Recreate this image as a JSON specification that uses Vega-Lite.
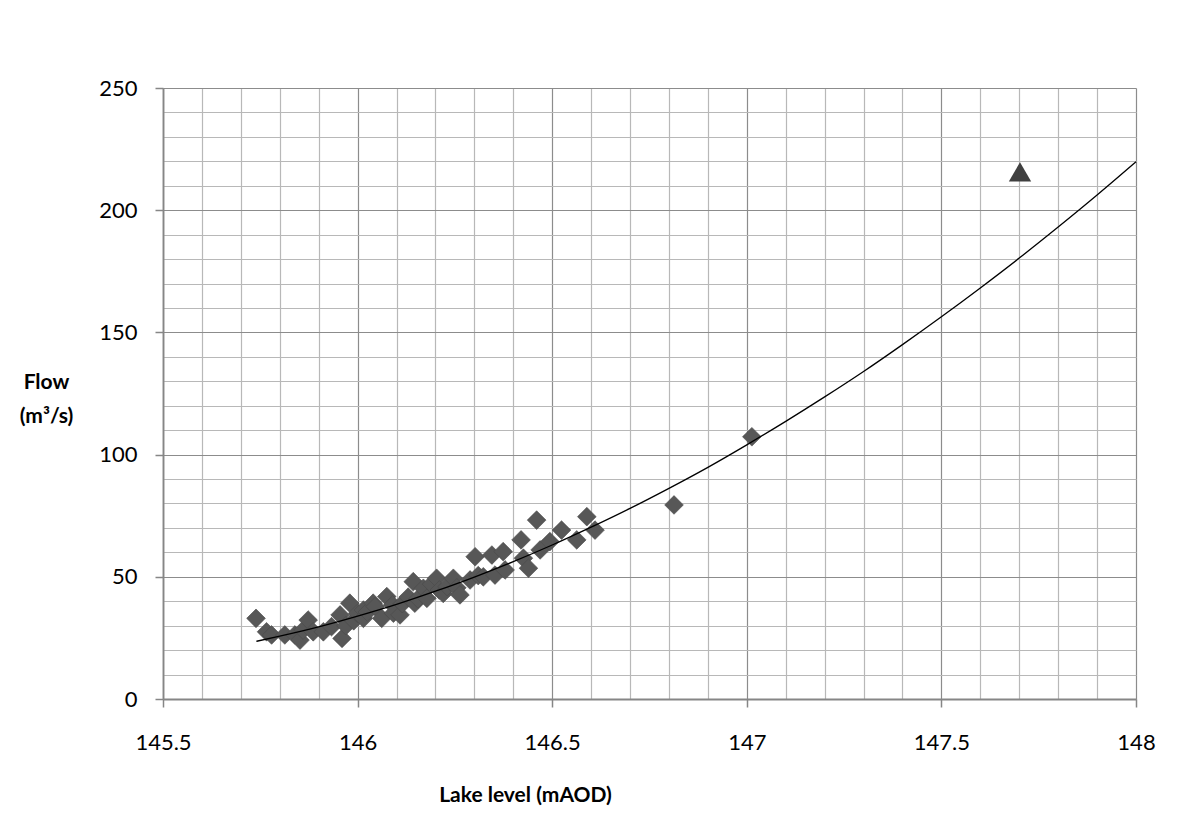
{
  "$schema": "https://vega.github.io/schema/vega-lite/v6.json",
  "autosize": "none",
  "width": 973,
  "height": 611,
  "padding": {"left": 163, "top": 88, "right": 52, "bottom": 135},
  "background": "white",
  "config": {
    "view": {"stroke": null},
    "font": "Lato"
  },
  "datasets": {
    "obs": [
      {"level": 145.739, "flow": 33.0},
      {"level": 145.766, "flow": 27.5},
      {"level": 145.779, "flow": 26.2},
      {"level": 145.813, "flow": 26.2},
      {"level": 145.839, "flow": 26.2},
      {"level": 145.852, "flow": 24.1},
      {"level": 145.86, "flow": 28.2},
      {"level": 145.873, "flow": 32.3},
      {"level": 145.886, "flow": 27.5},
      {"level": 145.912, "flow": 27.5},
      {"level": 145.933, "flow": 29.6},
      {"level": 145.955, "flow": 34.4},
      {"level": 145.96, "flow": 24.8},
      {"level": 145.97, "flow": 30.0},
      {"level": 145.98, "flow": 39.2},
      {"level": 145.99, "flow": 32.0},
      {"level": 146.0, "flow": 35.0},
      {"level": 146.015, "flow": 36.4},
      {"level": 146.015, "flow": 33.0},
      {"level": 146.025, "flow": 35.6},
      {"level": 146.04, "flow": 39.2},
      {"level": 146.045, "flow": 37.8},
      {"level": 146.062, "flow": 33.0},
      {"level": 146.075, "flow": 41.9},
      {"level": 146.09, "flow": 38.5},
      {"level": 146.092, "flow": 35.1},
      {"level": 146.109, "flow": 34.4},
      {"level": 146.115, "flow": 39.0},
      {"level": 146.13, "flow": 41.7},
      {"level": 146.143, "flow": 48.0},
      {"level": 146.147, "flow": 39.2},
      {"level": 146.155, "flow": 41.0},
      {"level": 146.169, "flow": 45.3},
      {"level": 146.178, "flow": 41.2},
      {"level": 146.19, "flow": 47.0},
      {"level": 146.203, "flow": 49.4},
      {"level": 146.21, "flow": 44.6},
      {"level": 146.22, "flow": 43.2},
      {"level": 146.23, "flow": 46.0},
      {"level": 146.246, "flow": 49.4},
      {"level": 146.255, "flow": 45.5},
      {"level": 146.263, "flow": 42.6},
      {"level": 146.289, "flow": 48.7},
      {"level": 146.302, "flow": 58.2},
      {"level": 146.31, "flow": 50.5},
      {"level": 146.323, "flow": 50.0},
      {"level": 146.345, "flow": 58.9},
      {"level": 146.353, "flow": 50.7},
      {"level": 146.374, "flow": 60.3},
      {"level": 146.379, "flow": 52.8},
      {"level": 146.42, "flow": 65.1},
      {"level": 146.426, "flow": 57.6},
      {"level": 146.439, "flow": 53.5},
      {"level": 146.46, "flow": 73.2},
      {"level": 146.469, "flow": 61.0},
      {"level": 146.494, "flow": 64.4},
      {"level": 146.524, "flow": 69.1},
      {"level": 146.563, "flow": 65.1},
      {"level": 146.589, "flow": 74.6},
      {"level": 146.61, "flow": 69.1},
      {"level": 146.813, "flow": 79.4},
      {"level": 147.013, "flow": 107.3}
    ],
    "extreme": [
      {"level": 147.702, "flow": 215.7}
    ],
    "trend": [
      {"level": 145.74, "flow": 23.6},
      {"level": 145.8, "flow": 25.7},
      {"level": 145.9, "flow": 29.5},
      {"level": 146.0, "flow": 33.9},
      {"level": 146.1, "flow": 38.7},
      {"level": 146.2, "flow": 44.1},
      {"level": 146.3, "flow": 49.9},
      {"level": 146.4, "flow": 56.2},
      {"level": 146.5, "flow": 63.0},
      {"level": 146.6, "flow": 70.3},
      {"level": 146.7, "flow": 78.0},
      {"level": 146.8, "flow": 86.2},
      {"level": 146.9, "flow": 94.8},
      {"level": 147.0, "flow": 104.0},
      {"level": 147.1, "flow": 113.6},
      {"level": 147.2, "flow": 123.6},
      {"level": 147.3, "flow": 134.0},
      {"level": 147.4, "flow": 145.0},
      {"level": 147.5, "flow": 156.4},
      {"level": 147.6, "flow": 168.2},
      {"level": 147.7, "flow": 180.4},
      {"level": 147.8, "flow": 193.1},
      {"level": 147.9, "flow": 206.2},
      {"level": 148.0, "flow": 219.8}
    ]
  },
  "encoding": {
    "x": {
      "field": "level",
      "type": "quantitative",
      "scale": {"domain": [145.5, 148], "nice": false, "zero": false},
      "axis": {
        "values": [145.5, 145.6, 145.7, 145.8, 145.9, 146.0, 146.1, 146.2, 146.3, 146.4, 146.5, 146.6, 146.7, 146.8, 146.9, 147.0, 147.1, 147.2, 147.3, 147.4, 147.5, 147.6, 147.7, 147.8, 147.9, 148.0],
        "title": "Lake level (mAOD)",
        "titleFont": "Lato",
        "titleFontSize": 21,
        "titleFontWeight": "bold",
        "titleColor": "#000000",
        "titleX": 362,
        "titleY": 102,
        "titleAlign": "center",
        "titleBaseline": "alphabetic",
        "labelExpr": "abs(datum.value*2-round(datum.value*2))<0.001 ? format(datum.value,'~f') : ''",
        "labelFont": "Lato",
        "labelFontSize": 22,
        "labelColor": "#000000",
        "labelPadding": 25,
        "labelBaseline": "top",
        "labelFlush": false,
        "labelOverlap": false,
        "tickSize": 8,
        "tickColor": "#868686",
        "tickWidth": 1.5,
        "tickOpacity": {"condition": {"test": "abs(datum.value*2-round(datum.value*2))<0.001", "value": 1}, "value": 0},
        "grid": true,
        "gridColor": {"condition": {"test": "abs(datum.value*2-round(datum.value*2))<0.001", "value": "#8c8c8c"}, "value": "#b8b8b8"},
        "gridWidth": 1.2,
        "domainColor": "#868686",
        "domainWidth": 1.8
      }
    },
    "y": {
      "field": "flow",
      "type": "quantitative",
      "scale": {"domain": [0, 250], "nice": false},
      "axis": {
        "values": [0, 10, 20, 30, 40, 50, 60, 70, 80, 90, 100, 110, 120, 130, 140, 150, 160, 170, 180, 190, 200, 210, 220, 230, 240, 250],
        "title": ["Flow", "(m³/s)"],
        "titleFont": "Lato",
        "titleFontSize": 21,
        "titleFontWeight": "bold",
        "titleColor": "#000000",
        "titleAngle": 0,
        "titleAlign": "center",
        "titleBaseline": "alphabetic",
        "titleX": -117,
        "titleY": 300,
        "titleLineHeight": 34,
        "labelExpr": "datum.value % 50 === 0 ? format(datum.value,'~f') : ''",
        "labelFont": "Lato",
        "labelFontSize": 22,
        "labelColor": "#000000",
        "labelPadding": 18,
        "labelBaseline": "middle",
        "labelFlush": false,
        "labelOverlap": false,
        "tickSize": 8,
        "tickColor": "#868686",
        "tickWidth": 1.5,
        "tickOpacity": {"condition": {"test": "datum.value % 50 === 0", "value": 1}, "value": 0},
        "grid": true,
        "gridColor": {"condition": {"test": "datum.value % 50 === 0", "value": "#8c8c8c"}, "value": "#b8b8b8"},
        "gridWidth": 1.2,
        "domainColor": "#868686",
        "domainWidth": 1.8
      }
    }
  },
  "layer": [
    {
      "data": {"name": "obs"},
      "mark": {"type": "point", "shape": "diamond", "filled": true, "size": 350, "color": "#575757", "opacity": 1, "stroke": "#4a4a4a", "strokeWidth": 0.6}
    },
    {
      "data": {"name": "trend"},
      "mark": {"type": "line", "color": "#000000", "strokeWidth": 1.3, "interpolate": "monotone"}
    },
    {
      "data": {"name": "extreme"},
      "mark": {"type": "point", "shape": "triangle-up", "filled": true, "size": 500, "color": "#404040", "opacity": 1}
    }
  ]
}
